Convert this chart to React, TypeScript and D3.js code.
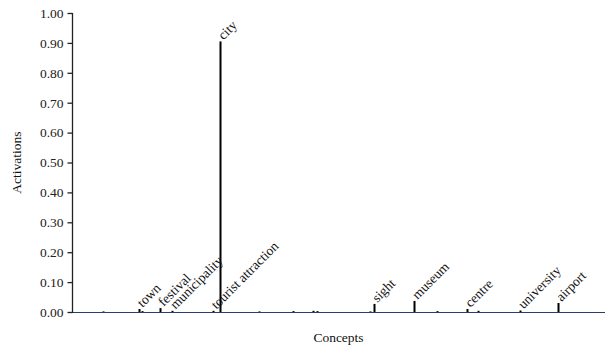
import React, { useEffect, useRef } from "react";
import * as d3 from "d3";

// Concept vocabulary: position of each concept in the vocabulary, its name
// (empty for unlabeled concepts) and its activation.
const VOCAB_SIZE = 533;
const conceptIndex = [31, 67, 70, 88, 100, 141, 148, 187, 221, 241, 245, 298, 302, 342, 365, 395, 406, 448, 486];
const conceptNames = ["", "town", "", "festival", "municipality", "tourist attraction", "city", "", "", "", "", "", "sight", "museum", "", "centre", "", "university", "airport"];
const activations = [0.002, 0.010, 0.003, 0.013, 0.004, 0.004, 0.905, 0.002, 0.003, 0.004, 0.003, 0.002, 0.027, 0.037, 0.003, 0.010, 0.004, 0.005, 0.030];
const yTicks = [0, 0.1, 0.2, 0.3, 0.4, 0.5, 0.6, 0.7, 0.8, 0.9, 1.0];

const W = 606;
const H = 349;
const M = { left: 72, right: 1, top: 13, bottom: 37 };
const SERIF = "'Liberation Serif', 'Times New Roman', serif";

export default function App() {
  const ref = useRef<SVGSVGElement>(null);

  useEffect(() => {
    const svg = d3.select(ref.current);
    svg.selectAll("*").remove();

    const x = d3.scaleLinear().domain([0, VOCAB_SIZE]).range([M.left, W - M.right]);
    const y = d3.scaleLinear().domain([0, 1]).range([H - M.bottom, M.top]);

    const data = conceptIndex.map((idx, i) => ({ idx, name: conceptNames[i], value: activations[i] }));

    // baseline
    svg.append("line")
      .attr("x1", x(0)).attr("x2", x(VOCAB_SIZE))
      .attr("y1", y(0) + 0.5).attr("y2", y(0) + 0.5)
      .attr("stroke", "#243f73").attr("stroke-width", 1.2);

    // bars
    svg.append("g").selectAll("rect").data(data).join("rect")
      .attr("x", (d) => x(d.idx + 0.5) - 1)
      .attr("width", 2)
      .attr("y", (d) => y(d.value))
      .attr("height", (d) => y(0) - y(d.value))
      .attr("fill", "#000");

    // concept labels
    svg.append("g").selectAll("text").data(data.filter((d) => d.name)).join("text")
      .attr("transform", (d) => `translate(${x(d.idx + 0.5) + 3},${y(d.value) - 1}) rotate(-45)`)
      .attr("font-family", SERIF)
      .attr("font-size", 13.5)
      .attr("fill", "#111")
      .text((d) => d.name);

    // y axis
    const yAxis = d3.axisLeft(y).tickValues(yTicks).tickFormat(d3.format(".2f")).tickSize(5).tickPadding(4);
    const gy = svg.append("g").attr("transform", `translate(${M.left + 0.5},0)`).call(yAxis);
    gy.select(".domain").attr("stroke", "#222").attr("stroke-width", 1.3)
      .attr("d", `M0,${y(1)}V${y(0) + 1}`);
    gy.selectAll(".tick line").attr("stroke", "#222").attr("stroke-width", 1.3);
    gy.selectAll(".tick text").attr("font-family", SERIF).attr("font-size", 13.5).attr("fill", "#222");

    // axis titles
    svg.append("text")
      .attr("transform", `translate(21,${(y(0) + y(1)) / 2}) rotate(-90)`)
      .attr("text-anchor", "middle")
      .attr("font-family", SERIF).attr("font-size", 13.5).attr("fill", "#111")
      .text("Activations");
    svg.append("text")
      .attr("x", (x(0) + x(VOCAB_SIZE)) / 2).attr("y", H - 7)
      .attr("text-anchor", "middle")
      .attr("font-family", SERIF).attr("font-size", 13.5).attr("fill", "#111")
      .text("Concepts");
  }, []);

  return (
    <svg
      ref={ref}
      width={W}
      height={H}
      style={{ position: "absolute", left: 0, top: 0, background: "#fff" }}
    />
  );
}
